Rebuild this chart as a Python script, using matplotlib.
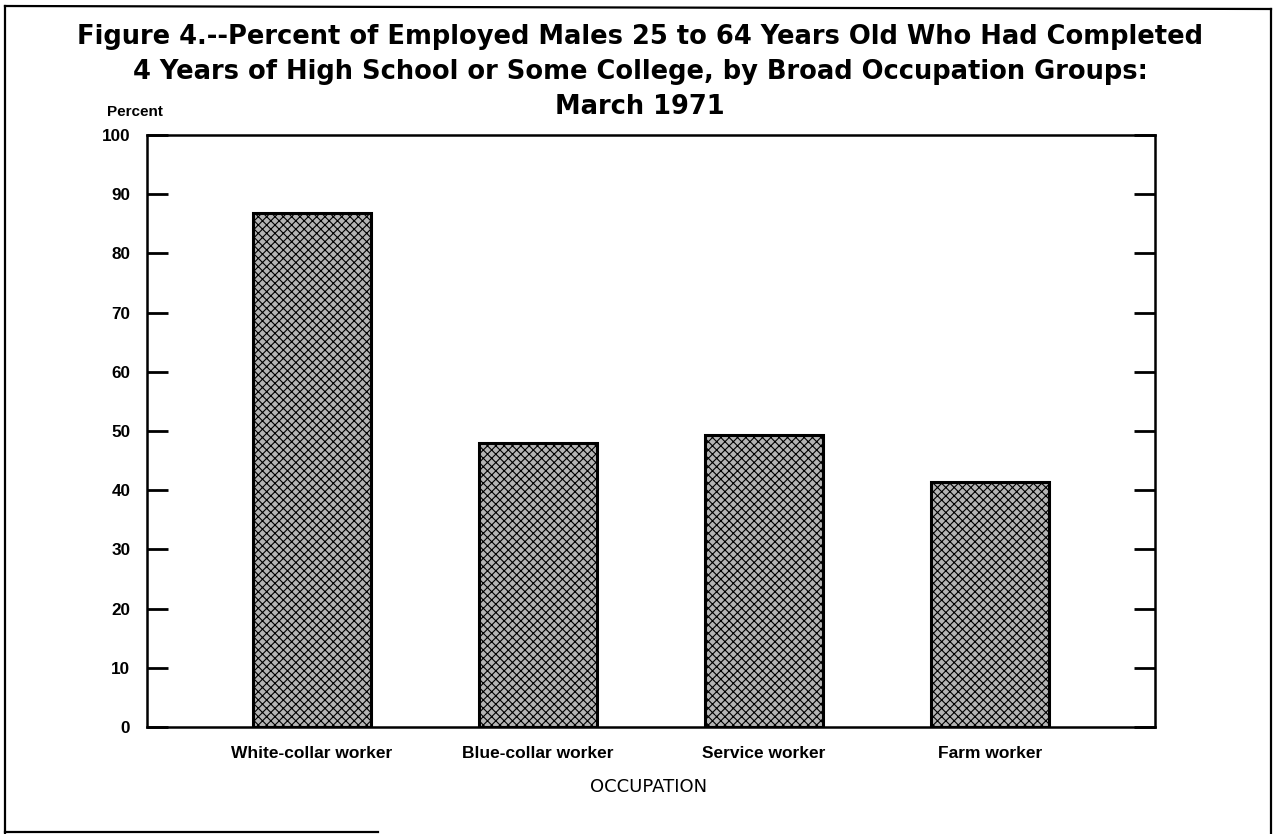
import matplotlib
matplotlib.use("Agg")
import matplotlib.pyplot as plt
from matplotlib.lines import Line2D
from matplotlib import font_manager as fm

categories = ["White-collar worker", "Blue-collar worker", "Service worker", "Farm worker"]
percent = [86.8, 48.0, 49.3, 41.4]
yticks = [0, 10, 20, 30, 40, 50, 60, 70, 80, 90, 100]

def has_font(name):
    try:
        fm.findfont(fm.FontProperties(family=name), fallback_to_default=False)
        return True
    except Exception:
        return False

NARROW_OK = has_font("Liberation Sans Narrow")
narrow = ["Liberation Sans Narrow", "DejaVu Sans"] if NARROW_OK else ["Liberation Sans", "DejaVu Sans"]
tick_fs = 13 if NARROW_OK else 12.3
cat_fs = 13.5 if NARROW_OK else 12.5
pct_fs = 12.5 if NARROW_OK else 11

plt.rcParams["hatch.linewidth"] = 0.8
plt.rcParams["hatch.color"] = "#4a4a4a"

fig = plt.figure(figsize=(12.74, 8.34), dpi=100)
W, H = 1274, 834

ax = fig.add_axes([147 / W, 1 - 727 / H, (1155 - 147) / W, (727 - 135) / H])
x = list(range(len(categories)))
ax.bar(x, percent, width=0.52, color="#b4b4b4", edgecolor="black", linewidth=2.2,
       hatch="xxxx", zorder=2)
ax.set_xlim(-0.73, 3.73)
ax.set_ylim(0, 100)
ax.set_yticks(yticks)
ax.set_yticklabels([str(v) for v in yticks], family=narrow, fontweight="bold", fontsize=tick_fs)
ax.set_xticks(x)
ax.set_xticklabels(categories, family=narrow, fontweight="bold", fontsize=cat_fs)
ax.tick_params(axis="y", direction="in", length=15, width=2, right=True, pad=12)
ax.tick_params(axis="x", length=0, pad=14)
for s in ax.spines.values():
    s.set_linewidth(1.8)

fig.text(649 / W, 1 - 787 / H, "OCCUPATION", ha="center", va="center",
         family="DejaVu Sans", fontsize=13)
fig.text(135 / W, 1 - 112 / H, "Percent", ha="center", va="center",
         family=narrow, fontweight="bold", fontsize=pct_fs)

title_lines = [
    "Figure 4.--Percent of Employed Males 25 to 64 Years Old Who Had Completed",
    "4 Years of High School or Some College, by Broad Occupation Groups:",
    "March 1971",
]
title_y = [37, 72, 107]
for t, yy in zip(title_lines, title_y):
    fig.text(640 / W, 1 - yy / H, t, ha="center", va="center",
             family="DejaVu Sans", fontweight="bold", fontsize=18.5)

# outer frame
def fline(x0, y0, x1, y1):
    fig.add_artist(Line2D([x0 / W, x1 / W], [1 - y0 / H, 1 - y1 / H],
                          transform=fig.transFigure, color="black", linewidth=1.6))

fline(5, 6, 5, 833)
fline(5, 6, 1271, 9)
fline(1271, 9, 1271, 834)
fline(5, 832, 378, 832)

fig.savefig("out.png", dpi=100)
